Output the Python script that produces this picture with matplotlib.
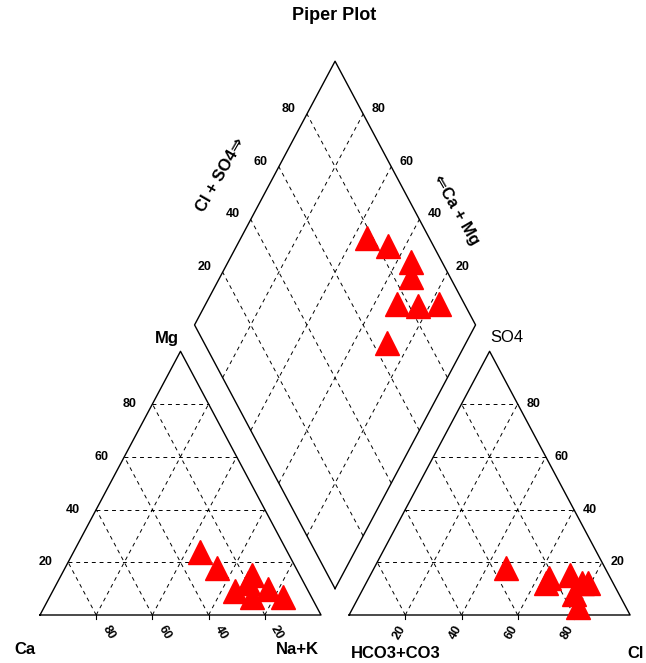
import numpy as np
import matplotlib
matplotlib.use('Agg')
import matplotlib.pyplot as plt

plt.rcParams['font.family'] = ['Liberation Sans', 'DejaVu Sans']

# cations, % meq
ca = [31, 28, 26, 17, 20, 14, 10, 21]
mg = [24, 18, 9, 15, 12, 10, 7, 7]
na_k = [45, 54, 65, 68, 68, 76, 83, 72]
# anions, % meq
hco3 = [22, 16, 11, 14, 24, 17, 9, 35]
so4 = [14, 8, 12, 15, 12, 3, 12, 18]
cl = [64, 76, 77, 71, 64, 80, 79, 47]

ticks = [20, 40, 60, 80]

H = np.sqrt(3) / 2
GAP = 0.1
X2 = 1 + GAP                       # left corner of anion triangle
BX, BY = 1 + GAP / 2, GAP / 2 * np.sqrt(3)   # bottom of the diamond
PX, PY = 281, 304.5                # pixels per unit


def cation_xy(c, m, n):
    c, m, n = np.array(c, float), np.array(m, float), np.array(n, float)
    tot = c + m + n
    return n / tot + m / tot / 2, m / tot * H


def anion_xy(h, o, c):
    h, o, c = np.array(h, float), np.array(o, float), np.array(c, float)
    tot = h + o + c
    return X2 + c / tot + o / tot / 2, o / tot * H


def diamond_xy(s, t):
    # s = Ca+Mg fraction, t = Cl+SO4 fraction
    return BX + 0.5 * (t - s), BY + H * (s + t)


fig = plt.figure(figsize=(6.46, 6.63), dpi=100)
ax = fig.add_axes([0, 0, 1, 1])
ax.set_xlim(-40 / PX, 606 / PX)
ax.set_ylim(-48 / PY, 615 / PY)
ax.axis('off')

solid = dict(color='black', lw=1.0)
dash = dict(color='black', lw=0.7, dashes=(4, 4))

# outlines
for x0 in (0, X2):
    ax.plot([x0, x0 + 1, x0 + 0.5, x0], [0, 0, H, 0], **solid)
dx, dy = zip(*[diamond_xy(0, 0), diamond_xy(1, 0), diamond_xy(1, 1),
               diamond_xy(0, 1), diamond_xy(0, 0)])
ax.plot(dx, dy, **solid)

# triangle grids
for x0 in (0, X2):
    for k in np.array(ticks) / 100:
        ax.plot([x0 + k / 2, x0 + 1 - k / 2], [k * H, k * H], **dash)
        ax.plot([x0 + k, x0 + k + (1 - k) / 2], [0, (1 - k) * H], **dash)
        ax.plot([x0 + 1 - k, x0 + (1 - k) / 2], [0, (1 - k) * H], **dash)
        ax.plot([x0 + k, x0 + k], [0, -4 / PY], color='black', lw=0.8)

# diamond grid
for k in np.array(ticks) / 100:
    a, b = zip(diamond_xy(k, 0), diamond_xy(k, 1))
    ax.plot(a, b, **dash)
    a, b = zip(diamond_xy(0, k), diamond_xy(1, k))
    ax.plot(a, b, **dash)

tk = dict(fontsize=9, fontweight='bold', ha='center', va='center')
for k in ticks:
    f = k / 100
    ax.text(f / 2 - 23 / PX, f * H, str(k), **tk)
    ax.text(X2 + 1 - f / 2 + 16 / PX, f * H, str(k), **tk)
    ax.text(f + 12 / PX, -18 / PY, str(100 - k), rotation=-60, **tk)
    ax.text(X2 + f - 6 / PX, -17 / PY, str(k), rotation=60, **tk)
    x, y = diamond_xy(1, f)
    ax.text(x - 18 / PX, y + 5 / PY, str(k), **tk)
    x, y = diamond_xy(f, 1)
    ax.text(x + 15 / PX, y + 5 / PY, str(k), **tk)

lab = dict(fontsize=12, fontweight='bold', ha='center', va='center')
ax.text(-15 / PX, -35 / PY, 'Ca', **lab)
ax.text(257 / PX, -35 / PY, 'Na+K', **lab)
ax.text(127 / PX, 277 / PY, 'Mg', **lab)
ax.text(356 / PX, -38 / PY, 'HCO3+CO3', **lab)
ax.text(604 / PX, -38 / PY, 'Cl', fontsize=12, fontweight='bold',
        ha='right', va='center')
ax.text(450 / PX, 277 / PY, 'SO4', fontsize=12, ha='left', va='center')
ax.text(181 / PX, 440 / PY, 'Cl + SO4\u21d2', fontsize=12, fontweight='bold',
        rotation=60, ha='center', va='center')
ax.text(416 / PX, 405 / PY, '\u21d0Ca + Mg', fontsize=12, fontweight='bold',
        rotation=-60, ha='center', va='center')
ax.text(294 / PX, 599 / PY, 'Piper Plot', fontsize=13, fontweight='bold',
        ha='center', va='center')

# samples
mk = dict(marker='^', ms=17, color='red', mec='red', ls='none')
x, y = cation_xy(ca, mg, na_k)
ax.plot(x, y, **mk)
x, y = anion_xy(hco3, so4, cl)
ax.plot(x, y, **mk)
s = (np.array(ca) + np.array(mg)) / (np.array(ca) + np.array(mg) + np.array(na_k))
t = (np.array(so4) + np.array(cl)) / (np.array(hco3) + np.array(so4) + np.array(cl))
x, y = diamond_xy(s, t)
ax.plot(x, y, **mk)

fig.savefig('out.png', dpi=100)
